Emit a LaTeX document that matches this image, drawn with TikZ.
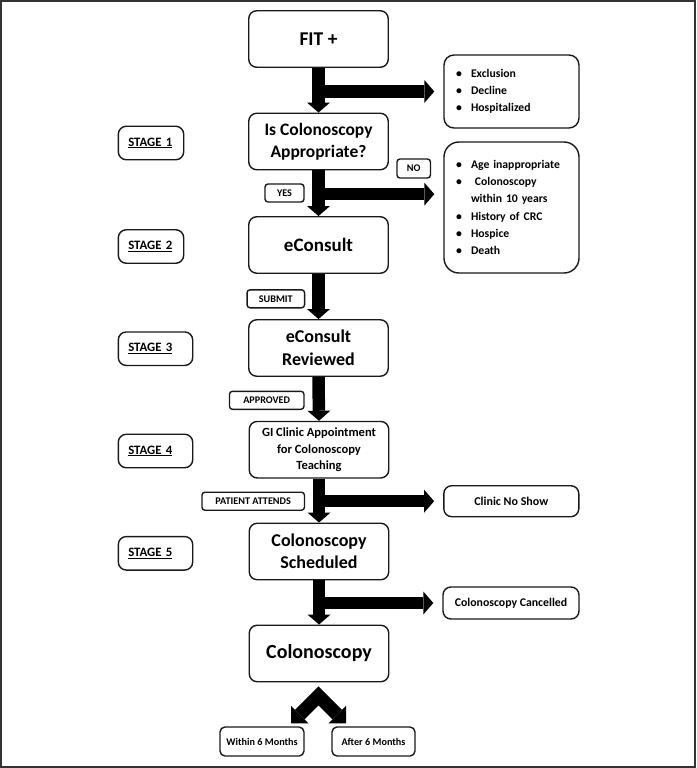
\documentclass[tikz,border=0pt]{standalone}
\usepackage{fontspec}
\setmainfont{Carlito}
\usetikzlibrary{arrows.meta,calc}
\newcommand\bul{\makebox[15pt][l]{\textbullet}}
\newcommand\fsz[2]{\fontsize{#1}{#2}\selectfont}
\begin{document}
\begin{tikzpicture}[x=1pt,y=-1pt,
  box/.style={draw=black!90, line width=1.4pt, rounded corners=8pt, inner sep=0pt, align=center, font=\bfseries},
  mainbox/.style={box, minimum width=139.5pt, minimum height=56.5pt},
  sidebox/.style={box, minimum width=135pt},
  listbox/.style={box, align=left, inner xsep=12pt, text width=111pt, font=\bfseries\fsz{11.7}{17.2}},
  stagebox/.style={box, anchor=west, align=left, inner xsep=10pt, minimum height=33.5pt, font=\bfseries\fsz{12.8}{14}},
  lbl/.style={draw=black!90, line width=1.4pt, rounded corners=3pt, inner sep=0pt, minimum height=18pt, font=\bfseries\fsz{10.2}{12}},
  endbox/.style={box, rounded corners=5pt, minimum width=84pt, minimum height=29pt, font=\bfseries\fsz{10.2}{12}},
  bigarrow/.style={line width=12.5pt, -{Triangle[length=10pt,width=23pt,line width=0pt]}}
]
\useasboundingbox (0,0) rectangle (696,768);
\draw[line width=2pt, black!80] (1,1) rectangle (695,767);

% main column
\node[mainbox, font=\bfseries\fsz{19.5}{23}] (fit) at (318.5,39) {FIT +};
\node[mainbox, font=\bfseries\fsz{17.5}{22}] (isco) at (318.5,141.5) {Is Colonoscopy\\Appropriate?};
\node[mainbox, font=\bfseries\fsz{19}{23}] (econ) at (318.5,245) {eConsult};
\node[mainbox, font=\bfseries\fsz{18}{23}] (rev) at (318.5,348) {eConsult\\Reviewed};
\node[mainbox, font=\bfseries\fsz{12.5}{16.7}] (gi) at (319,449.7) {GI Clinic Appointment\\for Colonoscopy\\Teaching};
\node[mainbox, font=\bfseries\fsz{18}{22}] (sched) at (319,551.5) {Colonoscopy\\Scheduled};
\node[mainbox, font=\bfseries\fsz{20}{24}] (colo) at (319,653.5) {Colonoscopy};

% side boxes
\node[listbox, minimum height=73pt, rounded corners=10pt] (excl) at (511.5,91.5) {\bul Exclusion\\\bul Decline\\\bul Hospitalized};
\node[listbox, minimum height=131pt, rounded corners=15pt] (age) at (511.5,207.5) {\bul Age inappropriate\\\bul\ Colonoscopy\\\hspace*{15pt}within 10 years\\\bul History of CRC\\\bul Hospice\\\bul Death};
\node[sidebox, minimum height=31pt, font=\bfseries\fsz{12}{14}] (noshow) at (511.3,501.2) {Clinic No Show};
\node[sidebox, minimum width=136pt, minimum height=32pt, font=\bfseries\fsz{11.8}{14}] (cancel) at (511,603) {Colonoscopy Cancelled};

% stage boxes
\node[stagebox, text width=45.4pt] (s1) at (117.6,143) {\underline{STAGE 1}};
\node[stagebox, text width=45.4pt] (s2) at (117.6,246.5) {\underline{STAGE 2}};
\node[stagebox, text width=54.4pt] (s3) at (117.6,348.7) {\underline{STAGE 3}};
\node[stagebox, text width=54.4pt] (s4) at (117.6,451) {\underline{STAGE 4}};
\node[stagebox, text width=54.4pt] (s5) at (117.6,553.3) {\underline{STAGE 5}};

% labels
\node[lbl, minimum width=39pt] (yes) at (284.5,193) {YES};
\node[lbl, minimum width=33.5pt, minimum height=19pt] (no) at (413.7,168.5) {NO};
\node[lbl, minimum width=57.5pt] (submit) at (275.8,298.8) {SUBMIT};
\node[lbl, minimum width=74.5pt] (appr) at (266.7,400.3) {APPROVED};
\node[lbl, minimum width=102.5pt] (att) at (253.2,501.2) {PATIENT ATTENDS};

% end boxes
\node[endbox] (within) at (262,741.5) {Within 6 Months};
\node[endbox, minimum width=83pt] (after) at (373.5,741.5) {After 6 Months};

% vertical arrows
\draw[bigarrow] (fit.south) -- (isco.north);
\draw[bigarrow] (isco.south) -- (econ.north);
\draw[bigarrow] (econ.south) -- (rev.north);
\draw[bigarrow] (rev.south) -- (gi.north);
\draw[bigarrow] (gi.south) -- (sched.north);
\draw[bigarrow] (sched.south) -- (colo.north);

% branches
\coordinate (j1) at (fit.south |- excl.west);
\coordinate (j2) at ($(isco.south)!0.52!(econ.north)$);
\coordinate (j5) at (gi.south |- noshow.west);
\coordinate (j6) at (sched.south |- cancel.west);
\draw[bigarrow, shorten >=9pt] (j1) -- (excl.west);
\draw[bigarrow, shorten >=9pt] (j2) -- (j2 -| age.west);
\draw[bigarrow, shorten >=9pt] (j5) -- (noshow.west);
\draw[bigarrow, shorten >=9pt] (j6) -- (cancel.west);

% chevron
\coordinate (ch) at ($(colo.south)+(-0.5,13.5)$);
\coordinate (lt) at ($(ch)+(-27.5,27.5)$);
\coordinate (rt) at ($(ch)+(27.5,27.5)$);
\draw[line width=13.4pt, line join=miter,
  {Triangle[length=12.5pt,width=25pt,line width=0pt]}-{Triangle[length=12.5pt,width=25pt,line width=0pt]}]
  (lt) -- (ch) -- (rt);
\end{tikzpicture}
\end{document}
